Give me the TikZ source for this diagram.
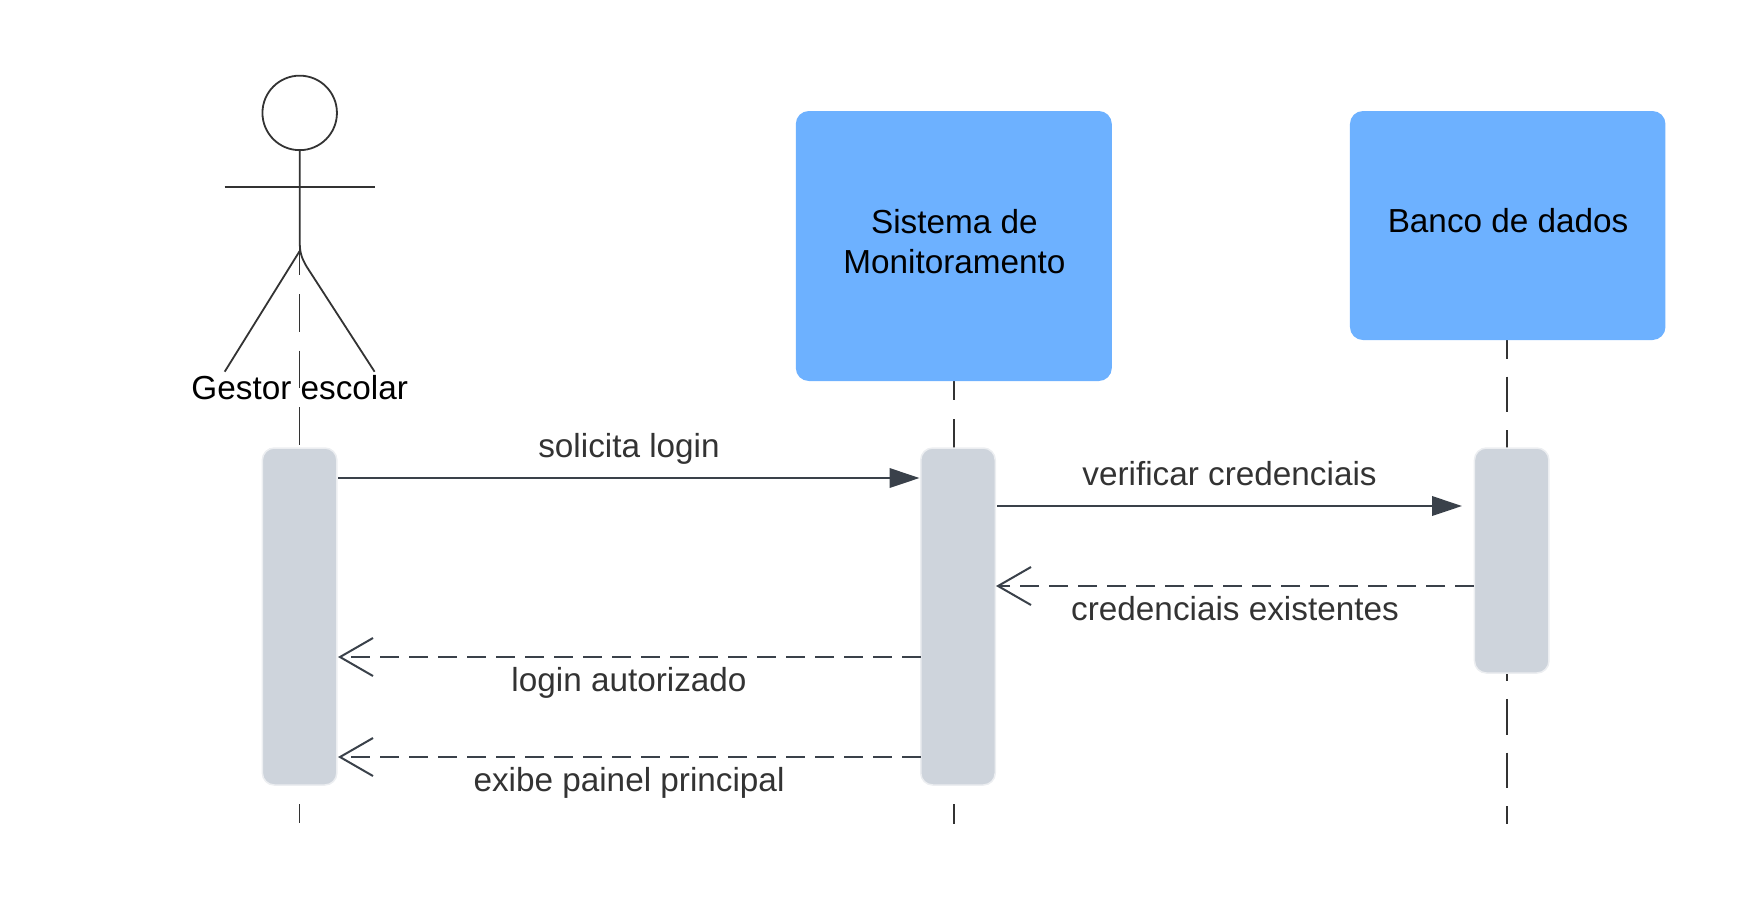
\documentclass[tikz,border=0pt]{standalone}
\usepackage{fontspec}
\setmainfont{Liberation Sans}
\usetikzlibrary{arrows.meta,calc}
\definecolor{boxblue}{HTML}{6DB1FF}
\definecolor{actgray}{HTML}{CED4DC}
\definecolor{actedge}{HTML}{ECEEF1}
\definecolor{wire}{HTML}{3A414A}
\definecolor{stick}{HTML}{333333}
\begin{document}
\begin{tikzpicture}[x=1pt,y=-1pt,line cap=butt,
  every node/.style={inner sep=0pt,outer sep=0pt},
  party/.style={fill=boxblue,rounded corners=13pt},
  partytext/.style={align=center,font=\fontsize{33.3}{40}\selectfont,text=black},
  activation/.style={fill=actgray,draw=actedge,line width=1.5pt,rounded corners=12pt},
  lbl/.style={anchor=base,font=\fontsize{33.3}{40}\selectfont,text=stick},
  limb/.style={draw=stick,line width=1.8pt},
  call/.style={draw=wire,line width=2pt,-{Triangle[length=30pt,width=19.5pt]}},
  reply/.style={draw=wire,line width=2pt,dash pattern=on 19pt off 10pt,-{Straight Barb[length=33pt,width=38pt,line width=2pt]}}]
\useasboundingbox (0,0) rectangle (1742,898);
% lifelines (behind everything)
\coordinate (l1top) at (299.5,237.3);
\coordinate (l1end) at (299.5,823);
\coordinate (l2top) at (954,381);
\coordinate (l2end) at (954,824);
\coordinate (l3top) at (1507,340);
\coordinate (l3end) at (1507,824);
\draw[draw=stick,line width=1.4pt,dash pattern=on 37.7pt off 19pt] (l1top) -- (l1end);
\draw[draw=stick,line width=2.1pt,dash pattern=on 36pt off 19pt,dash phase=17pt] (l2top) -- (l2end);
\draw[draw=stick,line width=2.1pt,dash pattern=on 35.7pt off 18pt,dash phase=17pt] (l3top) -- (l3end);
% parties
\node[party,minimum width=316pt,minimum height=270pt] (sys) at (953.8,246) {};
\node[party,minimum width=315.5pt,minimum height=229pt] (db) at (1507.7,225.5) {};
\node[partytext] (systxt) at ($(sys.center)+(0.6,-4.5)$) {Sistema de\\Monitoramento};
\node[partytext] (dbtxt) at ($(db.center)+(0.4,-4.5)$) {Banco de dados};
% actor
\node[draw=stick,line width=1.8pt,circle,minimum size=74.5pt,fill=white] (head) at (299.7,112.9) {};
\coordinate (armL) at (224.7,186.7);
\coordinate (armR) at (374.6,186.7);
\coordinate (hip) at (299.7,240);
\coordinate (legL) at (224.7,371.7);
\coordinate (legR) at (374.6,371.7);
\draw[limb] (armL) -- (armR);
\draw[limb] (head.south) -- (hip) .. controls (299.7,252) and (301,257) .. (306.7,266.7) -- (legR);
\draw[limb] (299.7,251) -- (legL);
\node[anchor=base,font=\fontsize{33.3}{40}\selectfont,text=black] (gestor) at (299.7,399) {Gestor escolar};
% activations
\node[activation,minimum width=74.5pt,minimum height=337pt] (a1) at (299.6,616.5) {};
\node[activation,minimum width=74.5pt,minimum height=337pt] (a2) at (958,616.5) {};
\node[activation,minimum width=74.5pt,minimum height=225pt] (a3) at (1511.7,560.5) {};
% messages
\coordinate (m1s) at (338,478);
\coordinate (m1e) at (919.5,478);
\coordinate (m2s) at (997,506);
\coordinate (m2e) at (1462,506);
\coordinate (m3s) at (1474,586);
\coordinate (m3e) at (996,586);
\coordinate (m4s) at (920.5,657);
\coordinate (m4e) at (338,657);
\coordinate (m5s) at (920.5,757);
\coordinate (m5e) at (338,757);
\draw[call] (m1s) -- (m1e);
\draw[call] (m2s) -- (m2e);
\draw[reply] (m3s) -- (m3e);
\draw[reply] (m4s) -- (m4e);
\draw[reply] (m5s) -- (m5e);
% labels
\node[lbl] (t1) at (629,457) {solicita login};
\node[lbl] (t2) at (1229.5,485) {verificar credenciais};
\node[lbl] (t3) at (1235,620) {credenciais existentes};
\node[lbl] (t4) at (629,691) {login autorizado};
\node[lbl] (t5) at (629,791) {exibe painel principal};
\end{tikzpicture}
\end{document}
